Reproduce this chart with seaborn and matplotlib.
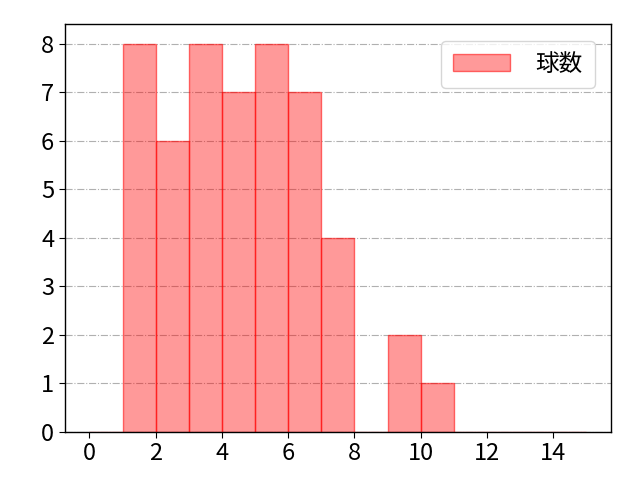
import matplotlib
matplotlib.use("Agg")
import matplotlib.pyplot as plt
import seaborn as sns
import pandas as pd

sns.set_style("white")
plt.rcParams['font.family'] = ['Noto Sans CJK JP', 'DejaVu Sans']
plt.rcParams['text.color'] = 'black'
plt.rcParams['xtick.color'] = 'black'
plt.rcParams['ytick.color'] = 'black'

bin_left = list(range(0, 15))
counts = [0, 8, 6, 8, 7, 8, 7, 4, 0, 2, 1, 0, 0, 0, 0]
label = "球数"

df = pd.DataFrame({"x": bin_left, "n": counts})

fig, ax = plt.subplots(figsize=(6.4, 4.8), dpi=100)
sns.histplot(data=df, x="x", weights="n", bins=list(range(0, 16)), ax=ax,
             color="red", alpha=0.4, linewidth=1, label=label)
for p in ax.patches:
    p.set_facecolor((1, 0, 0, 0.4))
    p.set_edgecolor((1, 0, 0, 0.55))
ax.set_xlim(-0.75, 15.75)
ax.set_ylim(0, 8.4)
ax.set_xticks(range(0, 16, 2))
ax.set_yticks(range(0, 9))
ax.tick_params(labelsize=17, left=True, bottom=True, length=4, colors="black")
ax.set_xlabel("")
ax.set_ylabel("")
ax.grid(axis="y", linestyle="-.", color="#b0b0b0", linewidth=0.8)
ax.set_axisbelow(True)
for s in ax.spines.values():
    s.set_color("black")
    s.set_linewidth(1)
leg = ax.legend(loc="upper right", fontsize=17, handlelength=2.4,
                handletextpad=1.1, borderpad=0.5, borderaxespad=0.7)
for t in leg.get_texts():
    t.set_color("black")
fig.subplots_adjust(left=0.101, right=0.955, top=0.949, bottom=0.1)
fig.savefig("out.png")
